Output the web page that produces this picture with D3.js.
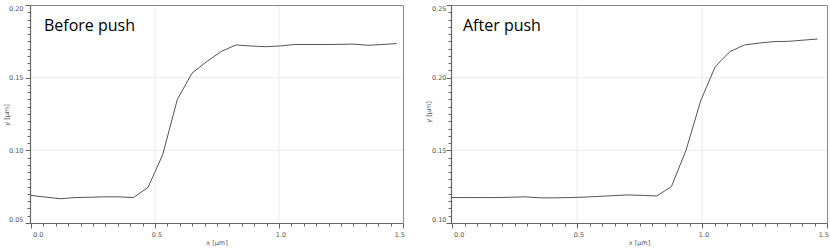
<!DOCTYPE html>
<html>
<head>
<meta charset="utf-8">
<script src="https://cdn.jsdelivr.net/npm/d3@7"></script>
<style>
  body { margin: 0; background: #fff; }
  svg { display: block; }
</style>
</head>
<body>
<div id="chart"></div>
<script>
// profile before the push
var beforeX = [0, 0.059, 0.118, 0.177, 0.236, 0.295, 0.354, 0.413, 0.472, 0.531, 0.590, 0.649, 0.708,
  0.767, 0.826, 0.885, 0.944, 1.003, 1.062, 1.121, 1.180, 1.239, 1.298, 1.357, 1.416, 1.475];
var beforeY = [0.0690, 0.0678, 0.0667, 0.0675, 0.0677, 0.0680, 0.0680, 0.0675, 0.0745, 0.0970, 0.1350, 0.1530, 0.1610,
  0.1680, 0.1725, 0.1718, 0.1713, 0.1718, 0.1728, 0.1728, 0.1728, 0.1729, 0.1731, 0.1723, 0.1728, 0.1735];

// profile after the push
var afterX = [0, 0.0585, 0.117, 0.1755, 0.234, 0.2925, 0.351, 0.4095, 0.468, 0.5265, 0.585, 0.6435, 0.702,
  0.7605, 0.819, 0.8775, 0.936, 0.9945, 1.053, 1.1115, 1.170, 1.2285, 1.287, 1.3455, 1.404, 1.4625];
var afterY = [0.1175, 0.1175, 0.1175, 0.1175, 0.1177, 0.1180, 0.1173, 0.1173, 0.1175, 0.1178, 0.1183, 0.1188, 0.1193,
  0.1190, 0.1186, 0.1250, 0.1500, 0.1840, 0.2076, 0.2179, 0.2225, 0.2238, 0.2248, 0.2250, 0.2258, 0.2266];

var xTicks = [0, 0.5, 1.0, 1.5];
var beforeYTicks = [0.05, 0.10, 0.15, 0.20];
var afterYTicks = [0.10, 0.15, 0.20, 0.25];

var svg = d3.select("#chart")
  .append("svg")
  .attr("width", 830)
  .attr("height", 250);

function drawPanel(p) {
  var x = d3.scaleLinear().domain([0, 1.5]).range([p.left, p.right]);
  var y = d3.scaleLinear().domain(p.yDomain).range([p.bottom, p.top]);
  var g = svg.append("g");

  // grid lines
  g.selectAll(".vgrid").data(xTicks.slice(1, -1)).enter().append("line")
    .attr("x1", d => x(d)).attr("x2", d => x(d))
    .attr("y1", p.top).attr("y2", p.bottom)
    .attr("stroke", "#ececec").attr("stroke-width", 1);
  g.selectAll(".hgrid").data(p.yTicks.slice(1, -1)).enter().append("line")
    .attr("x1", p.left).attr("x2", p.right)
    .attr("y1", d => y(d)).attr("y2", d => y(d))
    .attr("stroke", "#ececec").attr("stroke-width", 1);

  // top / right frame
  g.append("path")
    .attr("d", "M" + p.left + "," + (p.top + 0.5) + "H" + (p.right + 0.5) + "V" + p.bottom)
    .attr("fill", "none").attr("stroke", "#8a8a8a").attr("stroke-width", 1);

  // x axis
  var xMinor = d3.range(0, 1.5001, 0.05);
  var xa = g.append("g").attr("transform", "translate(0," + (p.bottom + 0.5) + ")");
  xa.append("line").attr("x1", p.left).attr("x2", p.right + 0.5)
    .attr("stroke", "#666").attr("stroke-width", 1.2);
  xa.selectAll(".xm").data(xMinor).enter().append("line")
    .attr("x1", d => Math.round(x(d)) + 0.5).attr("x2", d => Math.round(x(d)) + 0.5)
    .attr("y1", 0).attr("y2", (d, i) => i % 10 === 0 ? 5 : 3)
    .attr("stroke", "#666").attr("stroke-width", 1);
  xa.selectAll(".xl").data(xTicks).enter().append("text")
    .attr("x", d => x(d)).attr("y", 13)
    .attr("text-anchor", (d, i) => i === 0 ? "start" : (i === xTicks.length - 1 ? "end" : "middle"))
    .attr("dx", 2)
    .attr("font-family", "DejaVu Sans, sans-serif").attr("font-size", "6.5px")
    .attr("fill", "#555")
    .text(d => d.toFixed(1));
  g.append("text")
    .attr("x", (p.left + p.right) / 2).attr("y", 245)
    .attr("text-anchor", "middle")
    .attr("font-family", "DejaVu Sans, sans-serif").attr("font-size", "6.5px")
    .attr("fill", "#555")
    .text("x [µm]");

  // y axis
  var yMinor = d3.range(0, 31).map(i => p.yDomain[0] + i * 0.005);
  var ya = g.append("g").attr("transform", "translate(" + (p.left - 0.5) + ",0)");
  ya.append("line").attr("y1", p.top).attr("y2", p.bottom + 1)
    .attr("stroke", "#666").attr("stroke-width", 1.2);
  ya.selectAll(".ym").data(yMinor).enter().append("line")
    .attr("y1", d => Math.round(y(d)) + 0.5).attr("y2", d => Math.round(y(d)) + 0.5)
    .attr("x1", 0).attr("x2", (d, i) => i % 10 === 0 ? -5 : -3)
    .attr("stroke", "#666").attr("stroke-width", 1);
  ya.selectAll(".yl").data(p.yTicks).enter().append("text")
    .attr("x", p.tickLabelDx)
    .attr("y", d => y(d))
    .attr("dy", (d, i) => i === 0 ? "-1.5" : (i === p.yTicks.length - 1 ? "5.5" : "2.3"))
    .attr("text-anchor", "end")
    .attr("font-family", "DejaVu Sans, sans-serif").attr("font-size", "6.5px")
    .attr("fill", "#555")
    .text(d => d.toFixed(2));
  g.append("text")
    .attr("transform", "translate(" + p.yLabelX + "," + p.yLabelY + ") rotate(-90)")
    .attr("text-anchor", "middle")
    .attr("font-family", "DejaVu Sans, sans-serif").attr("font-size", "6.5px")
    .attr("fill", "#555")
    .text("y [µm]");

  // profile line
  var line = d3.line().x(d => x(d[0])).y(d => y(d[1]));
  g.append("path")
    .datum(d3.zip(p.xs, p.ys))
    .attr("d", line)
    .attr("fill", "none").attr("stroke", "#555").attr("stroke-width", 1);

  // title
  g.append("text")
    .attr("x", p.left + p.titleDx).attr("y", 31)
    .attr("font-family", "Open Sans, sans-serif").attr("font-size", "16px")
    .attr("fill", "#000")
    .text(p.title);
}

drawPanel({
  left: 31, right: 403, top: 5, bottom: 223,
  yDomain: [0.05, 0.20], yTicks: beforeYTicks,
  xs: beforeX, ys: beforeY, title: "Before push", titleDx: 13,
  tickLabelDx: -7, yLabelX: 8.5, yLabelY: 115
});
drawPanel({
  left: 452, right: 827, top: 5, bottom: 223,
  yDomain: [0.10, 0.25], yTicks: afterYTicks,
  xs: afterX, ys: afterY, title: "After push", titleDx: 11,
  tickLabelDx: -5, yLabelX: 431, yLabelY: 112
});
</script>
</body>
</html>
